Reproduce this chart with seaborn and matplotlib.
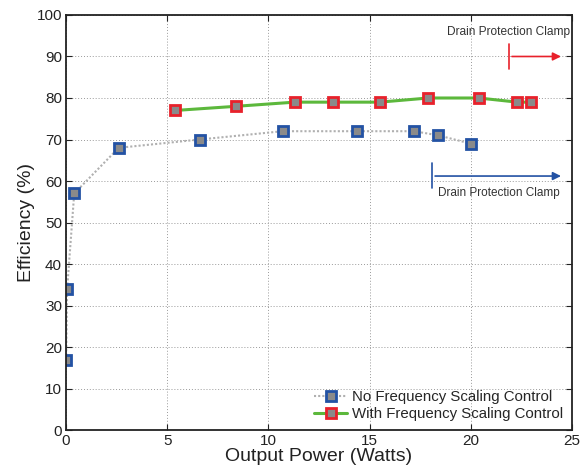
import matplotlib
matplotlib.use("Agg")
import matplotlib.pyplot as plt
import seaborn as sns
import pandas as pd

# ── data ─────────────────────────────────────────────────────────────────────
no_fs_power = [0.0, 0.05, 0.4, 2.6, 6.6, 10.7, 14.4, 17.2, 18.4, 20.0]
no_fs_eff   = [17, 34, 57, 68, 70, 72, 72, 72, 71, 69]
fs_power    = [5.4, 8.4, 11.3, 13.2, 15.5, 17.9, 20.4, 22.3, 23.0]
fs_eff      = [77, 78, 79, 79, 79, 80, 80, 79, 79]

sns.set_theme(style="white")
plt.rcParams["font.family"] = ["Liberation Sans", "DejaVu Sans"]

BLUE  = "#2352a4"
RED   = "#e8212b"
GREEN = "#5cb83c"
GRAY  = "#8a8a8a"

df_no = pd.DataFrame({"power": no_fs_power, "eff": no_fs_eff})
df_fs = pd.DataFrame({"power": fs_power, "eff": fs_eff})

fig = plt.figure(figsize=(5.8, 4.68), dpi=100)
ax = fig.add_axes([0.114, 0.081, 0.872, 0.887])

sns.lineplot(data=df_no, x="power", y="eff", ax=ax, color="#b0b0b0",
             linestyle=(0, (1, 1.0)), linewidth=1.5, marker="s", markersize=7,
             markerfacecolor=GRAY, markeredgecolor=BLUE, markeredgewidth=2.0,
             label="No Frequency Scaling Control", sort=False)
sns.lineplot(data=df_fs, x="power", y="eff", ax=ax, color=GREEN,
             linewidth=2.2, marker="s", markersize=7,
             markerfacecolor=GRAY, markeredgecolor=RED, markeredgewidth=2.0,
             label="With Frequency Scaling Control", sort=False)

# drain protection clamp annotations
ax.plot([21.9, 21.9], [87, 93], color=RED, lw=1.2)
ax.annotate("", xy=(24.6, 90), xytext=(21.9, 90),
            arrowprops=dict(arrowstyle="-|>", color=RED, lw=1.2, mutation_scale=12))
ax.text(24.9, 96, "Drain Protection Clamp", ha="right", va="center", fontsize=8.6,
        color="#333333")
ax.plot([18.1, 18.1], [58.3, 64.3], color=BLUE, lw=1.2)
ax.annotate("", xy=(24.6, 61.2), xytext=(18.1, 61.2),
            arrowprops=dict(arrowstyle="-|>", color=BLUE, lw=1.2, mutation_scale=12))
ax.text(18.4, 57, "Drain Protection Clamp", ha="left", va="center", fontsize=8.5,
        color="#333333")

ax.set_xlim(0, 25)
ax.set_ylim(0, 100)
ax.set_xticks(range(0, 26, 5))
ax.set_yticks(range(0, 101, 10))
ax.grid(True, color="#9a9a9a", linestyle=(0, (1, 2.0)), linewidth=0.7)
ax.tick_params(direction="in", length=4, width=0.8, labelsize=11, colors="#222222",
               top=True, right=True, bottom=True, left=True, pad=3)
for s in ax.spines.values():
    s.set_color("#222222")
    s.set_linewidth(1.3)
ax.set_xlabel("Output Power (Watts)", fontsize=14, labelpad=0, color="#222222")
ax.set_ylabel("Efficiency (%)", fontsize=14, labelpad=1, color="#222222")

ax.legend(loc="lower right", frameon=False, fontsize=10.8, handlelength=2.2,
          handletextpad=0.3, borderaxespad=0.2, labelspacing=0.2)

fig.savefig("out.png", dpi=100)
